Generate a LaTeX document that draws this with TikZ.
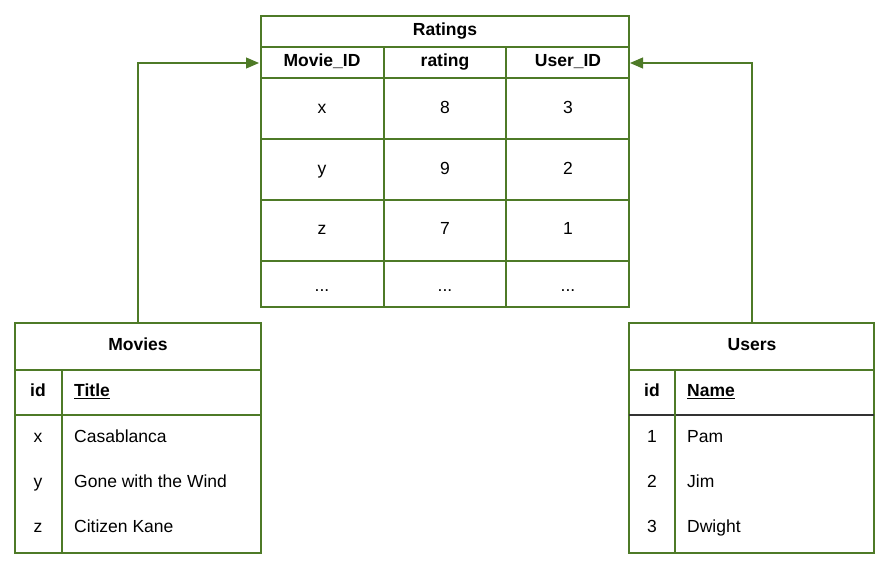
\documentclass[tikz,border=0pt]{standalone}
\usepackage{fontspec}
\setmainfont{Liberation Sans}
\usetikzlibrary{arrows.meta}
\definecolor{gr}{HTML}{4E7A27}
\def\ddd{...}
\begin{document}
\begin{tikzpicture}[x=1pt,y=-1pt,
  ln/.style={draw=gr,line width=1.1pt},
  t/.style={font=\fontsize{17.5}{20}\selectfont,text height=12.5pt,text depth=3.5pt},
  tb/.style={t,font=\fontsize{17.5}{20}\selectfont\bfseries},
  tl/.style={t,anchor=west,inner sep=0pt},
  arr/.style={draw=gr,line width=1.1pt,-{Triangle[length=13pt,width=11pt]}}]
\useasboundingbox (0,0) rectangle (891,570);
% Ratings
\draw[ln] (261,16) rectangle (629,307);
\foreach \y in {47,78,139,200,261} \draw[ln] (261,\y) -- (629,\y);
\draw[ln] (384,47) -- (384,307);
\draw[ln] (506,47) -- (506,307);
\node[tb] (rt) at (445,31) {Ratings};
\node[tb] (h1) at (322,62) {Movie\_ID};
\node[tb] (h2) at (445,62) {rating};
\node[tb] (h3) at (568,62) {User\_ID};
\foreach \a/\b/\c/\y in {x/8/3/109,y/9/2/170,z/7/1/230,\ddd/\ddd/\ddd/287}{
  \node[t] at (322,\y) {\a};
  \node[t] at (445,\y) {\b};
  \node[t] at (568,\y) {\c};}
% Movies
\draw[ln] (15,323) rectangle (261,553);
\draw[ln] (15,370) -- (261,370);
\draw[ln] (15,415) -- (261,415);
\draw[ln] (62,370) -- (62,553);
\node[tb] (mv) at (138,346) {Movies};
\node[tb] at (38,392) {id};
\node[tb,anchor=west,inner sep=0pt] at (74,392) {\underline{Title}};
\foreach \a/\b/\y in {x/Casablanca/438,y/Gone with the Wind/483,z/Citizen Kane/528}{
  \node[t] at (38,\y) {\a};
  \node[tl] at (74,\y) {\b};}
% Users
\draw[ln] (629,323) rectangle (874,553);
\draw[ln] (629,370) -- (874,370);
\draw[line width=1.1pt,black!80] (629,415) -- (874,415);
\draw[ln] (675,370) -- (675,553);
\node[tb] (us) at (752,346) {Users};
\node[tb] at (652,392) {id};
\node[tb,anchor=west,inner sep=0pt] at (687,392) {\underline{Name}};
\foreach \a/\b/\y in {1/Pam/438,2/Jim/483,3/Dwight/528}{
  \node[t] at (652,\y) {\a};
  \node[tl] at (687,\y) {\b};}
% arrows
\coordinate (m0) at (138,323);
\coordinate (m1) at (259,63);
\coordinate (u0) at (752,323);
\coordinate (u1) at (630,63);
\draw[arr] (m0) |- (m1);
\draw[arr] (u0) |- (u1);
\end{tikzpicture}
\end{document}
